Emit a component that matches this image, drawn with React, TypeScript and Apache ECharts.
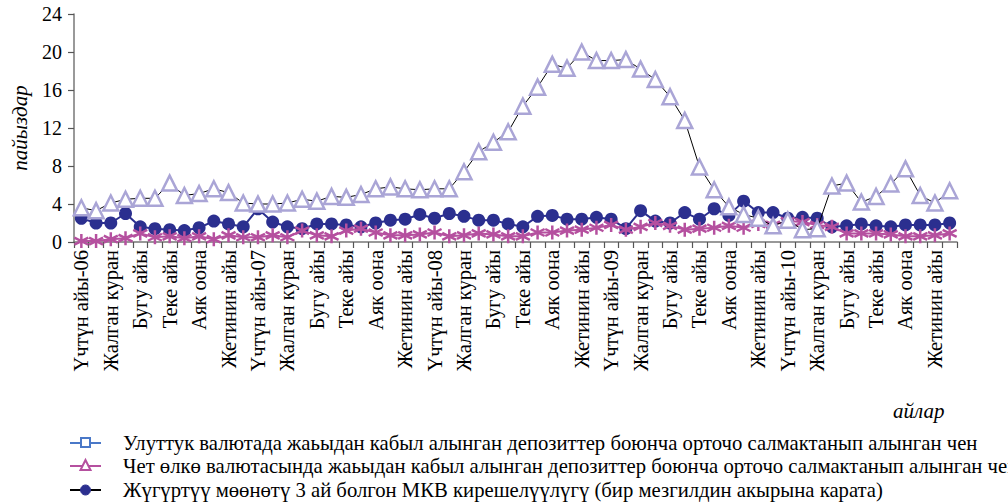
import React, { useEffect, useRef } from "react";
import * as echarts from "echarts";

const monthNames = [
  "Үчтүн айы", "Бирдин айы", "Жалган куран", "Чын куран", "Бугу айы", "Кулжа айы",
  "Теке айы", "Баш оона", "Аяк оона", "Тогуздун айы", "Жетинин айы", "Бештин айы",
];
const years = ["06", "07", "08", "09", "10"];

const nationalRate = [
  3.6, 3.3, 4.1, 4.5, 4.6, 4.6, 6.2, 4.9, 5.1, 5.6, 5.2, 4.1,
  4.0, 4.0, 4.1, 4.5, 4.3, 4.8, 4.7, 5.0, 5.6, 5.8, 5.6, 5.5,
  5.6, 5.6, 7.4, 9.5, 10.5, 11.6, 14.3, 16.3, 18.7, 18.3, 20.0, 19.1,
  19.1, 19.2, 18.2, 17.1, 15.3, 12.8, 7.9, 5.5, 3.7, 2.9, 2.5, 1.7,
  2.3, 1.3, 1.4, 5.9, 6.2, 4.2, 4.8, 6.1, 7.7, 4.9, 4.1, 5.4,
];
const foreignRate = [
  0.1, 0.1, 0.3, 0.4, 0.9, 0.5, 0.6, 0.4, 0.6, 0.3, 0.7, 0.5,
  0.5, 0.7, 0.5, 1.2, 0.7, 0.6, 1.2, 1.4, 1.0, 0.7, 0.7, 0.8,
  1.0, 0.6, 0.7, 0.9, 0.8, 0.6, 0.6, 1.0, 1.0, 1.2, 1.3, 1.5,
  1.8, 1.3, 1.6, 2.0, 1.7, 1.3, 1.4, 1.5, 1.7, 1.5, 1.9, 1.8,
  2.2, 2.1, 1.8, 1.6, 0.9, 0.9, 0.9, 0.8, 0.6, 0.6, 0.7, 0.9,
];
const billYield = [
  2.5, 2.0, 2.0, 3.0, 1.6, 1.4, 1.3, 1.2, 1.5, 2.2, 1.9, 1.6,
  3.5, 2.1, 1.6, 1.4, 1.9, 1.9, 1.8, 1.6, 2.0, 2.3, 2.4, 2.9,
  2.5, 3.0, 2.7, 2.3, 2.3, 1.9, 1.6, 2.7, 2.8, 2.4, 2.4, 2.6,
  2.4, 1.4, 3.3, 2.2, 2.0, 3.1, 2.4, 3.5, 2.8, 4.3, 3.1, 3.1,
  2.5, 2.6, 2.5, 1.6, 1.7, 1.9, 1.7, 1.6, 1.8, 1.8, 1.8, 2.0,
];

const seriesNames = [
  "Улуттук валютада жаьыдан кабыл алынган депозиттер боюнча орточо салмактанып алынган чен",
  "Чет өлкө валютасында жаьыдан кабыл алынган депозиттер боюнча орточо салмактанып алынган чен",
  "Жүгүртүү мөөнөтү 3 ай болгон МКВ кирешелүүлүгү (бир мезгилдин акырына карата)",
];

const categories: string[] = [];
years.forEach((y) =>
  monthNames.forEach((m, i) => categories.push(i === 0 ? `${m}-${y}` : m))
);

const SERIF = "'Liberation Serif', 'Times New Roman', serif";
const NAVY = "#2b2f8f";
const LAVENDER = "#aaa5d6";
const MAGENTA = "#b5509f";
const BLUE = "#4a78c8";
const ASTERISK = "path://M5,0 L5,10 M0.7,2.5 L9.3,7.5 M0.7,7.5 L9.3,2.5";

export default function App() {
  const ref = useRef<HTMLDivElement>(null);
  useEffect(() => {
    if (!ref.current) return;
    const chart = echarts.init(ref.current, undefined, { renderer: "svg" });
    const legendY = [443, 466, 490];
    const legendGraphics: any[] = [];
    legendY.forEach((y, k) => {
      const col = k === 0 ? BLUE : k === 1 ? MAGENTA : "#000";
      legendGraphics.push({
        type: "line",
        shape: { x1: 70, y1: y, x2: 101, y2: y },
        style: { stroke: col, lineWidth: 2 },
      });
      if (k === 0) {
        legendGraphics.push({
          type: "rect",
          shape: { x: 81, y: y - 5, width: 9, height: 9 },
          style: { fill: "#fff", stroke: BLUE, lineWidth: 2 },
        });
      } else if (k === 1) {
        legendGraphics.push({
          type: "polygon",
          shape: { points: [[85.5, y - 6], [80.5, y + 4], [90.5, y + 4]] },
          style: { fill: "#fff", stroke: MAGENTA, lineWidth: 2 },
        });
      } else {
        legendGraphics.push({
          type: "circle",
          shape: { cx: 85.5, cy: y, r: 5 },
          style: { fill: NAVY, stroke: NAVY, lineWidth: 1 },
        });
      }
      legendGraphics.push({
        type: "text",
        x: 123,
        y: y,
        style: {
          text: seriesNames[k],
          font: `20.7px ${SERIF}`,
          fill: "#000",
          verticalAlign: "middle",
          textAlign: "left",
        },
      });
    });

    chart.setOption({
      animation: false,
      grid: { left: 74, right: 51, top: 14, bottom: 262, containLabel: false },
      xAxis: {
        type: "category",
        data: categories,
        boundaryGap: true,
        axisLine: { show: true, lineStyle: { color: "#777", width: 1.5 } },
        axisTick: { show: true, interval: 0, length: 6, lineStyle: { color: "#555", width: 1.2 } },
        axisLabel: {
          interval: 1,
          rotate: 90,
          margin: 8,
          fontFamily: SERIF,
          fontSize: 20.5,
          color: "#000",
        },
        splitLine: { show: false },
      },
      yAxis: {
        type: "value",
        min: 0,
        max: 24,
        interval: 4,
        name: "пайыздар",
        nameLocation: "middle",
        nameRotate: 90,
        nameGap: 44,
        nameTextStyle: { fontFamily: SERIF, fontSize: 21, fontStyle: "italic", color: "#000" },
        axisLine: { show: true, lineStyle: { color: "#777", width: 1.5 } },
        axisTick: { show: true, length: 6, lineStyle: { color: "#555", width: 1.2 } },
        axisLabel: { fontFamily: SERIF, fontSize: 20, color: "#000", margin: 12 },
        splitLine: { show: false },
      },
      series: [
        {
          name: seriesNames[2],
          type: "line",
          data: billYield,
          symbol: "circle",
          symbolSize: 13,
          showAllSymbol: true,
          itemStyle: { color: NAVY },
          lineStyle: { color: NAVY, width: 2 },
          z: 2,
        },
        {
          name: seriesNames[1],
          type: "line",
          data: foreignRate,
          symbol: ASTERISK,
          symbolSize: 14,
          showAllSymbol: true,
          itemStyle: { color: "none", borderColor: MAGENTA, borderWidth: 2.5 },
          lineStyle: { color: MAGENTA, width: 2 },
          z: 3,
        },
        {
          name: seriesNames[0],
          type: "line",
          data: nationalRate,
          symbol: "triangle",
          symbolSize: 15,
          showAllSymbol: true,
          itemStyle: { color: "#fff", borderColor: LAVENDER, borderWidth: 2.5 },
          lineStyle: { color: "#000", width: 1 },
          z: 4,
        },
      ],
      graphic: [
        {
          type: "text",
          x: 893,
          y: 411,
          style: {
            text: "айлар",
            font: `italic 21px ${SERIF}`,
            fill: "#000",
            verticalAlign: "middle",
          },
        },
        ...legendGraphics,
      ],
    });
    return () => chart.dispose();
  }, []);
  return <div ref={ref} style={{ width: 1008, height: 504, position: "absolute", left: 0, top: 0 }} />;
}
